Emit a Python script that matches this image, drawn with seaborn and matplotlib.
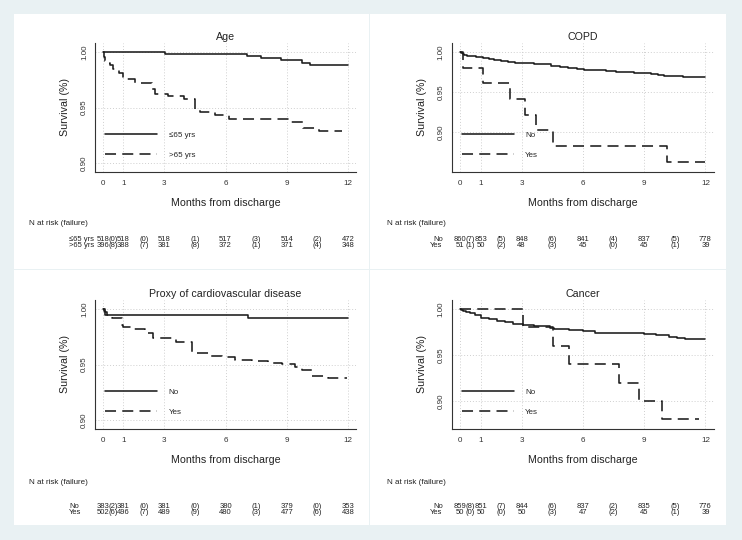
import matplotlib
matplotlib.use("Agg")
import matplotlib.pyplot as plt
import matplotlib.transforms as mtransforms
from matplotlib.patches import Rectangle
import seaborn as sns
import pandas as pd

# --- values ---
tick_months = [0, 1, 3, 6, 9, 12]
fail_months = [0.5, 2, 4.5, 7.5, 10.5]

age_young_t = [0, 3.05, 7.05, 7.74, 8.72, 9.73, 10.14, 12.0]
age_young_s = [1.0, 0.9981, 0.9961, 0.9942, 0.9923, 0.9903, 0.9884, 0.9884]
age_old_t = [0, 0.05, 0.12, 0.2, 0.35, 0.5, 0.8, 1.0, 1.55, 2.4, 2.55, 3.2, 3.95,
             4.5, 4.75, 5.5, 6.15, 9.1, 9.8, 10.6, 11.7]
age_old_s = [1.0, 0.995, 0.992, 0.99, 0.988, 0.985, 0.981, 0.976, 0.972, 0.967, 0.9625,
             0.960, 0.958, 0.948, 0.946, 0.9435, 0.9395, 0.937, 0.932, 0.929, 0.929]

copd_no_t = [0, 0.05, 0.12, 0.2, 0.35, 0.52, 0.75, 1.1, 1.4, 1.67, 2.0, 2.32, 2.7, 3.13,
             3.6, 4.44, 4.9, 5.26, 5.7, 6.07, 6.6, 7.13, 7.6, 8.03, 8.5, 9.0, 9.35, 9.67,
             9.99, 10.4, 10.89, 12.0]
copd_no_s = [1.0, 0.9988, 0.9977, 0.9965, 0.9953, 0.9942, 0.993, 0.9919, 0.9907, 0.9895,
             0.9884, 0.9872, 0.9866, 0.986, 0.9849, 0.9826, 0.9814, 0.9802, 0.9791, 0.9779,
             0.9767, 0.9756, 0.9749, 0.9744, 0.9738, 0.9733, 0.9721, 0.9709, 0.9698, 0.9692,
             0.9686, 0.9686]
copd_yes_t = [0, 0.12, 1.13, 2.43, 3.18, 3.7, 4.55, 10.12, 12.0]
copd_yes_s = [1.0, 0.9804, 0.9608, 0.9412, 0.9216, 0.902, 0.8824, 0.8627, 0.8627]

cvd_no_t = [0, 0.08, 0.2, 7.12, 12.0]
cvd_no_s = [1.0, 0.9974, 0.9948, 0.9922, 0.9922]
cvd_yes_t = [0, 0.05, 0.1, 0.42, 0.91, 1.0, 1.49, 2.06, 2.46, 3.56, 4.34, 4.59, 5.27, 5.84,
             6.46, 7.28, 8.1, 8.75, 9.4, 9.76, 10.25, 11.0, 11.93]
cvd_yes_s = [1.0, 0.998, 0.9946, 0.9916, 0.9856, 0.9835, 0.982, 0.978, 0.9742, 0.9706,
             0.9616, 0.9607, 0.9577, 0.9565, 0.954, 0.9535, 0.9517, 0.9502, 0.9474, 0.945,
             0.9396, 0.938, 0.938]

cancer_no_t = [0, 0.05, 0.15, 0.3, 0.5, 0.7, 1.0, 1.4, 1.8, 2.2, 2.6, 3.05, 3.6, 4.4, 4.6,
               5.3, 6.0, 6.6, 7.3, 8.2, 9.0, 9.6, 10.2, 10.6, 11.0, 12.0]
cancer_no_s = [1.0, 0.9988, 0.9977, 0.9965, 0.9953, 0.993, 0.9907, 0.9895, 0.9872, 0.986,
               0.9837, 0.9825, 0.9814, 0.979, 0.9779, 0.9767, 0.9756, 0.9744, 0.974, 0.9735,
               0.9732, 0.972, 0.9697, 0.9685, 0.9674, 0.9674]
cancer_yes_t = [0, 3.05, 4.55, 5.3, 7.75, 8.77, 9.88, 11.7]
cancer_yes_s = [1.0, 0.98, 0.96, 0.94, 0.92, 0.90, 0.88, 0.88]

# N at risk at tick months, failures between ticks
age_risk = [[518, 518, 518, 517, 514, 472], [396, 388, 381, 372, 371, 348]]
age_fail = [[0, 0, 1, 3, 2], [8, 7, 8, 1, 4]]
copd_risk = [[860, 853, 848, 841, 837, 778], [51, 50, 48, 45, 45, 39]]
copd_fail = [[7, 5, 6, 4, 5], [1, 2, 3, 0, 1]]
cvd_risk = [[383, 381, 381, 380, 379, 353], [502, 496, 489, 480, 477, 438]]
cvd_fail = [[2, 0, 0, 1, 0], [6, 7, 9, 3, 6]]
cancer_risk = [[859, 851, 844, 837, 835, 776], [50, 50, 50, 47, 45, 39]]
cancer_fail = [[8, 7, 6, 2, 5], [0, 0, 3, 2, 1]]

sns.set_theme(style="white")
plt.rcParams["font.family"] = ["Liberation Sans", "DejaVu Sans"]

W, H = 742, 540
fig = plt.figure(figsize=(W / 100, H / 100), dpi=100)
fig.patch.set_facecolor("#e9f1f3")
# white cards behind the panels
for x0, y0, x1, y1 in [(14, 14, 369, 269), (370, 14, 726, 269),
                       (14, 270, 369, 525), (370, 270, 726, 525)]:
    fig.patches.append(Rectangle((x0 / W, 1 - y1 / H), (x1 - x0) / W, (y1 - y0) / H,
                                 transform=fig.transFigure, facecolor="white",
                                 edgecolor="none", zorder=-10))

DASH = (0, (6.9, 3.9))
INK = "#1c1c1c"
TXT = "#222222"


def draw_panel(rect, xlim, ylim, title, curves, labels, risk, fail, lab_x, lab_ha,
               y_nrisk, y_rows):
    ax = fig.add_axes(rect)
    ax.set_facecolor("none")
    for (t, s), lab, ls in zip(curves, labels, ["-", DASH]):
        df = pd.DataFrame({"month": t, "surv": s})
        sns.lineplot(data=df, x="month", y="surv", ax=ax, estimator=None,
                     drawstyle="steps-post", color=INK, lw=1.15, linestyle=ls,
                     label=lab)
    ax.set_xlim(*xlim)
    ax.set_ylim(*ylim)
    ax.set_xticks(tick_months)
    ax.set_yticks([0.90, 0.95, 1.00])
    ax.set_yticklabels(["0.90", "0.95", "1.00"], rotation=90, va="center")
    ax.tick_params(axis="both", direction="out", length=3.5, width=0.7,
                   colors="#333333", labelsize=5.8, pad=2)
    ax.tick_params(axis="y", pad=1.5)
    for sp in ["top", "right"]:
        ax.spines[sp].set_visible(False)
    for sp in ["left", "bottom"]:
        ax.spines[sp].set_color("#333333")
        ax.spines[sp].set_linewidth(0.8)
    ax.grid(True, color="#cfcfcf", lw=0.7, linestyle=(0, (1, 2)))
    ax.set_axisbelow(True)
    ax.set_title(title, fontsize=7.7, pad=2.3, color=TXT)
    ax.set_xlabel("Months from discharge", fontsize=7.7, color=TXT)
    ax.set_ylabel("Survival (%)", fontsize=7.7, color=TXT)
    ax.xaxis.set_label_coords(0.5, -0.2)
    ax.yaxis.set_label_coords(-0.095, 0.5)
    ax.xaxis.label.set_va("top")
    ax.legend(loc="lower left", bbox_to_anchor=(0.038, 0.103), frameon=False,
              fontsize=5.8, handlelength=6.5, handletextpad=1.4, labelspacing=1.5,
              borderpad=0, borderaxespad=0)

    tr = mtransforms.blended_transform_factory(ax.transData, ax.transAxes)
    ax.text(-3.6, y_nrisk, "N at risk (failure)", transform=tr, fontsize=5.8,
            ha="left", va="center", color=TXT, clip_on=False)
    for lab, nr, nf, yy in zip(labels, risk, fail, y_rows):
        ax.text(lab_x, yy, lab, transform=tr, fontsize=5.5, ha=lab_ha, va="center",
                color=TXT)
        for m, v in zip(tick_months, nr):
            ax.text(m, yy, str(v), transform=tr, fontsize=5.5, ha="center",
                    va="center", color=TXT)
        for m, v in zip(fail_months, nf):
            ax.text(m, yy, f"({v})", transform=tr, fontsize=5.5, ha="center",
                    va="center", color=TXT)
    return ax


left_l, left_r = 95 / W, 451.7 / W
w_l, w_r = 261 / W, 262.3 / W
b_top, b_bot = 1 - 172 / H, 1 - 429 / H
hgt = 129 / H

draw_panel([left_l, b_top, w_l, hgt], (-0.39, 12.39), (0.892, 1.008), "Age",
           [(age_young_t, age_young_s), (age_old_t, age_old_s)],
           ["≤65 yrs", ">65 yrs"], age_risk, age_fail, -0.42, "right",
           -0.398, [-0.52, -0.568])
draw_panel([left_r, b_top, w_r, hgt], (-0.42, 12.42), (0.85, 1.011), "COPD",
           [(copd_no_t, copd_no_s), (copd_yes_t, copd_yes_s)],
           ["No", "Yes"], copd_risk, copd_fail, -0.86, "right",
           -0.398, [-0.52, -0.568])
draw_panel([left_l, b_bot, w_l, hgt], (-0.39, 12.39), (0.892, 1.008),
           "Proxy of cardiovascular disease",
           [(cvd_no_t, cvd_no_s), (cvd_yes_t, cvd_yes_s)],
           ["No", "Yes"], cvd_risk, cvd_fail, -1.65, "left",
           -0.416, [-0.6, -0.648])
draw_panel([left_r, b_bot, w_r, hgt], (-0.42, 12.42), (0.8696, 1.0098), "Cancer",
           [(cancer_no_t, cancer_no_s), (cancer_yes_t, cancer_yes_s)],
           ["No", "Yes"], cancer_risk, cancer_fail, -0.86, "right",
           -0.416, [-0.6, -0.648])

fig.savefig("out.png", dpi=100, facecolor=fig.get_facecolor())
